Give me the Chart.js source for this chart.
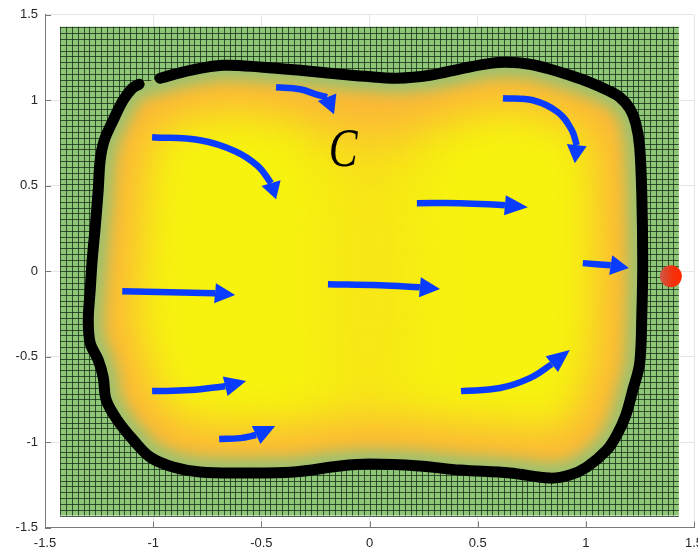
<!DOCTYPE html>
<html>
<head>
<meta charset="utf-8">
<script src="https://cdn.jsdelivr.net/npm/chart.js@4.4.1/dist/chart.umd.min.js"></script>
<style>
  html, body { margin: 0; padding: 0; background: #fff; overflow: hidden; }
  #wrap { width: 712px; height: 550px; }
</style>
</head>
<body>
<div id="wrap"><canvas id="flowChart" width="712" height="550"></canvas></div>
<script>
// Closed curve C (open at the top-left corner), clockwise from the gap
const contourX = [-0.968, -0.829, -0.677, -0.492, -0.321, -0.182, -0.021, 0.127, 0.279, 0.432,
  0.557, 0.635, 0.741, 0.820, 0.926, 1.018, 1.102, 1.157, 1.203, 1.231,
  1.249, 1.259, 1.263, 1.259, 1.249, 1.217, 1.185, 1.143, 1.097, 1.005,
  0.926, 0.834, 0.649, 0.418, 0.229, 0.002, -0.136, -0.349, -0.598, -0.783,
  -0.908, -1.014, -1.092, -1.166, -1.217, -1.231, -1.254, -1.291, -1.300, -1.291,
  -1.282, -1.268, -1.254, -1.245, -1.226, -1.185, -1.139, -1.097, -1.065];
const contourY = [1.129, 1.175, 1.205, 1.193, 1.175, 1.158, 1.140, 1.129, 1.146, 1.187,
  1.216, 1.222, 1.211, 1.187, 1.146, 1.105, 1.058, 1.018, 0.953, 0.865,
  0.725, 0.433, 0.047, -0.246, -0.538, -0.696, -0.842, -0.959, -1.047, -1.146,
  -1.193, -1.211, -1.181, -1.164, -1.140, -1.129, -1.140, -1.175, -1.181, -1.175,
  -1.146, -1.088, -0.988, -0.871, -0.754, -0.620, -0.520, -0.421, -0.287, -0.111,
  0.064, 0.257, 0.474, 0.649, 0.766, 0.883, 1.000, 1.070, 1.094];

// Flow arrows: shaft points, then the tip of each head
const arrowX = [
  [-1.005, -0.783, -0.621, -0.515, -0.455],
  [-0.432, -0.321, -0.247, -0.196],
  [0.617, 0.755, 0.871, 0.935, 0.958],
  [0.219, 0.418, 0.626],
  [0.986, 1.115],
  [-1.143, -0.921, -0.714],
  [-0.192, 0.048, 0.233],
  [-1.005, -0.829, -0.667],
  [-0.695, -0.598, -0.524],
  [0.423, 0.603, 0.741, 0.843]
];
const arrowY = [
  [0.784, 0.766, 0.702, 0.614, 0.515],
  [1.076, 1.064, 1.035, 1.018],
  [1.012, 1.000, 0.930, 0.825, 0.737],
  [0.398, 0.398, 0.386],
  [0.047, 0.035],
  [-0.117, -0.123, -0.129],
  [-0.076, -0.082, -0.094],
  [-0.702, -0.696, -0.673],
  [-0.982, -0.977, -0.959],
  [-0.702, -0.684, -0.626, -0.544]
];
const tipX = [-0.432, -0.164, 0.949, 0.732, 1.199, -0.621, 0.326, -0.570, -0.436, 0.926];
const tipY = [0.421, 0.918, 0.632, 0.374, 0.018, -0.140, -0.105, -0.643, -0.906, -0.462];

// Marked point outside the curve
const markX = [1.393];
const markY = [-0.03];

// Curve label and its position
const curveLabel = 'C';
const labelX = -0.122;
const labelY = 0.708;

// Square mesh behind everything
const meshMin = -1.43;
const meshMax = 1.43;
const meshStepX = 0.027;
const meshStepY = 0.034;

const axisTicks = [-1.5, -1, -0.5, 0, 0.5, 1, 1.5];

const BLUE = '#0a3cff';
const YELLOW = '#f7f30f';
const ORANGE = '#fbb638';
const EDGE_GREEN = '#9cc16f';

function zip(xs, ys) { return xs.map((v, i) => ({ x: v, y: ys[i] })); }

function contourPath(chart) {
  const { x, y } = chart.scales;
  const p = new Path2D();
  contourX.forEach((v, i) => {
    const px = x.getPixelForValue(v), py = y.getPixelForValue(contourY[i]);
    if (i === 0) p.moveTo(px, py); else p.lineTo(px, py);
  });
  p.closePath();
  return p;
}

// mesh + shaded interior, drawn under the datasets
const fieldPlugin = {
  id: 'field',
  beforeDatasetsDraw(chart) {
    const { ctx, scales: { x, y } } = chart;
    const x0 = x.getPixelForValue(meshMin), x1 = x.getPixelForValue(meshMax);
    const y0 = y.getPixelForValue(meshMax), y1 = y.getPixelForValue(meshMin);
    ctx.save();
    ctx.fillStyle = '#8cc676';
    ctx.fillRect(x0, y0, x1 - x0, y1 - y0);
    ctx.strokeStyle = 'rgba(22,40,22,0.75)';
    ctx.lineWidth = 1;
    ctx.beginPath();
    for (let v = meshMin; v <= meshMax + 1e-6; v += meshStepX) {
      const px = Math.round(x.getPixelForValue(v)) + 0.5;
      ctx.moveTo(px, y0); ctx.lineTo(px, y1);
    }
    for (let v = meshMin; v <= meshMax + 1e-6; v += meshStepY) {
      const py = Math.round(y.getPixelForValue(v)) + 0.5;
      ctx.moveTo(x0, py); ctx.lineTo(x1, py);
    }
    ctx.stroke();

    const path = contourPath(chart);
    ctx.clip(path);
    ctx.fillStyle = YELLOW;
    ctx.fill(path);

    // warmer strip between the two bright lobes, strongest at the top
    const cx = x.getPixelForValue(0);
    ctx.filter = 'blur(30px)';
    ctx.fillStyle = 'rgba(251,195,45,0.3)';
    ctx.beginPath();
    ctx.ellipse(cx, y.getPixelForValue(0), 40, 190, 0, 0, Math.PI * 2);
    ctx.fill();
    ctx.fillStyle = 'rgba(251,182,56,0.65)';
    ctx.beginPath();
    ctx.ellipse(cx, y.getPixelForValue(1.1), 70, 70, 0, 0, Math.PI * 2);
    ctx.fill();

    // orange band, then green rim along the curve
    ctx.filter = 'blur(20px)';
    ctx.strokeStyle = ORANGE;
    ctx.lineWidth = 92;
    ctx.lineJoin = 'round';
    ctx.stroke(path);
    ctx.filter = 'blur(7px)';
    ctx.strokeStyle = EDGE_GREEN;
    ctx.lineWidth = 30;
    ctx.stroke(path);
    ctx.restore();
  },
  afterDatasetsDraw(chart) {
    const { ctx, scales: { x, y } } = chart;
    ctx.save();
    // arrow heads
    ctx.fillStyle = BLUE;
    arrowX.forEach((xs, i) => {
      const bx = x.getPixelForValue(xs[xs.length - 1]);
      const by = y.getPixelForValue(arrowY[i][xs.length - 1]);
      const tx = x.getPixelForValue(tipX[i]);
      const ty = y.getPixelForValue(tipY[i]);
      const len = Math.hypot(tx - bx, ty - by);
      const nx = -(ty - by) / len, ny = (tx - bx) / len;
      const hw = 10;
      ctx.beginPath();
      ctx.moveTo(tx, ty);
      ctx.lineTo(bx + nx * hw, by + ny * hw);
      ctx.lineTo(bx - nx * hw, by - ny * hw);
      ctx.closePath();
      ctx.fill();
    });
    // curve name
    ctx.translate(x.getPixelForValue(labelX), y.getPixelForValue(labelY));
    ctx.scale(0.8, 1);
    ctx.fillStyle = '#000';
    ctx.font = 'italic 54px "Liberation Serif", "DejaVu Serif", serif';
    ctx.textAlign = 'center';
    ctx.textBaseline = 'middle';
    ctx.fillText(curveLabel, 0, 2);
    ctx.restore();
  },
  afterDraw(chart) {
    // inward tick marks
    const { ctx, chartArea: a, scales: { x, y } } = chart;
    ctx.save();
    ctx.strokeStyle = '#7a7a7a';
    ctx.lineWidth = 1;
    ctx.beginPath();
    axisTicks.forEach(v => {
      const px = Math.round(x.getPixelForValue(v)) + 0.5;
      ctx.moveTo(px, a.bottom); ctx.lineTo(px, a.bottom - 6);
      const py = Math.round(y.getPixelForValue(v)) + 0.5;
      ctx.moveTo(a.left, py); ctx.lineTo(a.left + 6, py);
    });
    ctx.stroke();
    ctx.restore();
  }
};

const datasets = [];
datasets.push({
  data: zip(markX, markY),
  order: 0,
  pointRadius: 11,
  borderWidth: 0,
  backgroundColor(c) {
    const p = c.element;
    if (!p || p.x === undefined) return '#f33a12';
    const g = c.chart.ctx.createLinearGradient(p.x - 11, 0, p.x + 11, 0);
    g.addColorStop(0, '#c85a48');
    g.addColorStop(0.6, '#f6300c');
    g.addColorStop(1, '#ff2a00');
    return g;
  }
});
arrowX.forEach((xs, i) => {
  datasets.push({
    data: zip(xs, arrowY[i]),
    order: 1,
    showLine: true,
    borderColor: BLUE,
    borderWidth: 6.5,
    borderCapStyle: 'butt',
    tension: 0.4,
    pointRadius: 0
  });
});
datasets.push({
  data: zip(contourX, contourY),
  order: 2,
  showLine: true,
  borderColor: '#000',
  borderWidth: 11,
  borderCapStyle: 'round',
  borderJoinStyle: 'round',
  tension: 0.35,
  pointRadius: 0
});

const tickFont = { family: '"Liberation Sans", Arial, sans-serif', size: 13 };

new Chart(document.getElementById('flowChart').getContext('2d'), {
  type: 'scatter',
  data: { datasets },
  options: {
    responsive: false,
    animation: false,
    events: [],
    layout: { padding: { top: 14, right: 18, left: 0, bottom: 0 } },
    plugins: { legend: { display: false }, tooltip: { enabled: false } },
    scales: {
      x: {
        type: 'linear', min: -1.5, max: 1.5,
        ticks: { stepSize: 0.5, color: '#262626', font: tickFont, padding: 8, maxRotation: 0, callback: v => String(v) },
        grid: { color: '#e6e6e6', drawTicks: false },
        border: { display: true, color: '#7a7a7a' },
        afterFit(s) { s.height = 22.5; }
      },
      y: {
        type: 'linear', min: -1.5, max: 1.5,
        ticks: { stepSize: 0.5, color: '#262626', font: tickFont, padding: 7, callback: v => String(v) },
        grid: { color: '#e6e6e6', drawTicks: false },
        border: { display: true, color: '#7a7a7a' },
        afterFit(s) { s.width = 45; }
      }
    }
  },
  plugins: [fieldPlugin]
});
</script>
</body>
</html>
